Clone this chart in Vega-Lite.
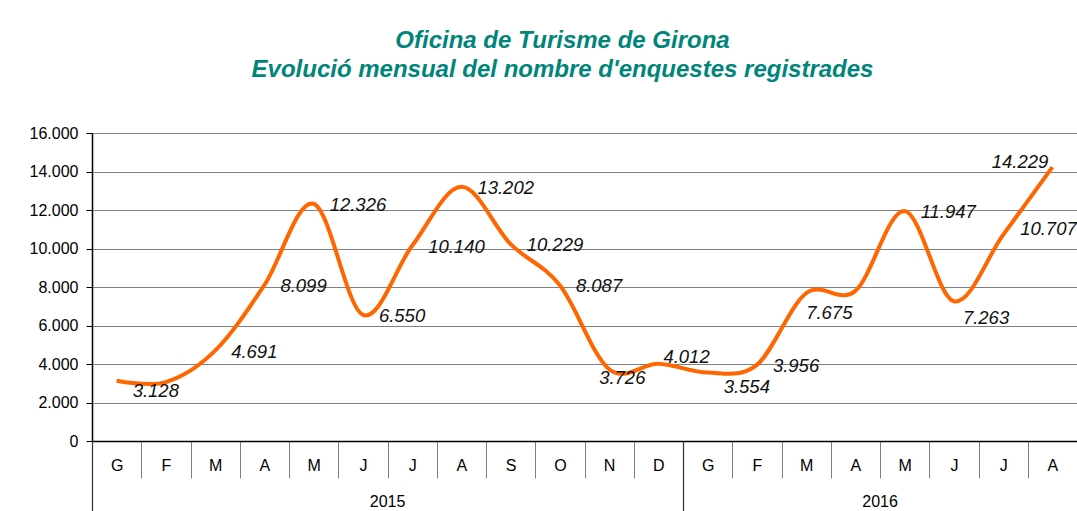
{
  "$schema": "https://vega.github.io/schema/vega-lite/v6.json",
  "width": 985,
  "height": 308,
  "autosize": {"type": "none"},
  "padding": {"left": 92, "top": 133, "right": 0, "bottom": 70},
  "background": "white",
  "title": {
    "text": ["Oficina de Turisme de Girona", "Evolució mensual del nombre d'enquestes registrades"],
    "font": "Liberation Sans",
    "fontSize": 24,
    "fontWeight": "bold",
    "fontStyle": "italic",
    "color": "#00857a",
    "anchor": "middle",
    "frame": "group",
    "dx": -22,
    "offset": 43,
    "lineHeight": 29
  },
  "config": {
    "view": {"stroke": null},
    "text": {"font": "Liberation Sans", "fontStyle": "italic", "fontSize": 18.5, "align": "left", "baseline": "middle", "color": "#111111"}
  },
  "data": {
    "values": [
      {"key": "2015-01", "v": 3128},
      {"key": "2015-02", "v": 3060},
      {"key": "2015-03", "v": 4691},
      {"key": "2015-04", "v": 8099},
      {"key": "2015-05", "v": 12326},
      {"key": "2015-06", "v": 6550},
      {"key": "2015-07", "v": 10140},
      {"key": "2015-08", "v": 13202},
      {"key": "2015-09", "v": 10229},
      {"key": "2015-10", "v": 8087},
      {"key": "2015-11", "v": 3726},
      {"key": "2015-12", "v": 4012},
      {"key": "2016-01", "v": 3554},
      {"key": "2016-02", "v": 3956},
      {"key": "2016-03", "v": 7675},
      {"key": "2016-04", "v": 7800},
      {"key": "2016-05", "v": 11947},
      {"key": "2016-06", "v": 7263},
      {"key": "2016-07", "v": 10707},
      {"key": "2016-08", "v": 14229}
    ]
  },
  "transform": [{"calculate": "replace(format(datum.v, ','), ',', '.')", "as": "lbl"}],
  "encoding": {
    "y": {
      "field": "v", "type": "quantitative",
      "scale": {"domain": [0, 16000], "nice": false},
      "axis": {
        "title": null, "values": [0, 2000, 4000, 6000, 8000, 10000, 12000, 14000, 16000],
        "labelExpr": "replace(format(datum.value, ','), ',', '.')",
        "grid": true, "gridColor": "#808080", "gridWidth": 1,
        "tickColor": "#000000", "tickSize": 6, "labelPadding": 8,
        "labelFont": "Liberation Sans", "labelFontSize": 16, "labelColor": "#000000",
        "domainColor": "#000000", "domainWidth": 1.5
      }
    }
  },
  "layer": [
    {
      "mark": {"type": "line", "color": "#ff6600", "strokeWidth": 4, "interpolate": "cardinal"},
      "encoding": {
        "x": {
          "field": "key", "type": "ordinal",
          "scale": {"type": "band", "paddingInner": 0, "paddingOuter": 0},
          "axis": {
            "orient": "bottom",
            "title": null, "tickBand": "extent", "tickSize": 37, "tickColor": "#808080", "tickWidth": 1,
            "labelPadding": -13, "labelBaseline": "middle", "labelAngle": 0,
            "labelExpr": "['G','F','M','A','M','J','J','A','S','O','N','D'][toNumber(substring(datum.value + '', 5, 7)) - 1]",
            "labelFont": "Liberation Sans", "labelFontSize": 16, "labelColor": "#000000",
            "domainColor": "#000000", "domainWidth": 1.5, "grid": false
          }
        }
      }
    },
    {
      "mark": {"type": "rule", "strokeOpacity": 0},
      "encoding": {
        "x": {
          "field": "key", "type": "ordinal",
          "axis": {"orient": "bottom", "title": null, "values": ["2015-01", "2016-01"], "bandPosition": 0, "tickSize": 70, "tickColor": "#333333", "tickWidth": 1.2, "labels": false, "domain": false, "grid": false}
        }
      }
    },
    {
      "mark": {"type": "rule", "strokeOpacity": 0},
      "encoding": {
        "x": {
          "field": "key", "type": "ordinal",
          "axis": {"orient": "bottom", "title": null, "values": ["2015-07", "2016-05"], "bandPosition": 0, "ticks": false,
                   "labelExpr": "substring(datum.value + '', 0, 4)", "labelAngle": 0, "labelOffset": -24.6,
                   "labelPadding": 60, "labelBaseline": "middle", "labelFont": "Liberation Sans", "labelFontSize": 16, "labelColor": "#000000",
                   "domain": false, "grid": false}
        }
      }
    },
    {
      "transform": [{"filter": {"field": "key", "oneOf": ["2015-03", "2015-04", "2015-05", "2015-06", "2015-07", "2015-08", "2015-09", "2015-10", "2016-02", "2016-05"]}}],
      "mark": {"type": "text", "dx": 16, "dy": 1},
      "encoding": {"x": {"field": "key", "type": "ordinal", "axis": null}, "text": {"field": "lbl", "type": "nominal"}}
    },
    {
      "transform": [{"filter": {"field": "key", "equal": "2015-01"}}],
      "mark": {"type": "text", "dx": 16, "dy": 10},
      "encoding": {"x": {"field": "key", "type": "ordinal", "axis": null}, "text": {"field": "lbl", "type": "nominal"}}
    },
    {
      "transform": [{"filter": {"field": "key", "equal": "2016-01"}}],
      "mark": {"type": "text", "dx": 16, "dy": 14},
      "encoding": {"x": {"field": "key", "type": "ordinal", "axis": null}, "text": {"field": "lbl", "type": "nominal"}}
    },
    {
      "transform": [{"filter": {"field": "key", "equal": "2016-06"}}],
      "mark": {"type": "text", "dx": 9, "dy": 17},
      "encoding": {"x": {"field": "key", "type": "ordinal", "axis": null}, "text": {"field": "lbl", "type": "nominal"}}
    },
    {
      "transform": [{"filter": {"field": "key", "equal": "2015-11"}}],
      "mark": {"type": "text", "dx": -10, "dy": 9},
      "encoding": {"x": {"field": "key", "type": "ordinal", "axis": null}, "text": {"field": "lbl", "type": "nominal"}}
    },
    {
      "transform": [{"filter": {"field": "key", "equal": "2016-03"}}],
      "mark": {"type": "text", "dx": 0, "dy": 20},
      "encoding": {"x": {"field": "key", "type": "ordinal", "axis": null}, "text": {"field": "lbl", "type": "nominal"}}
    },
    {
      "transform": [{"filter": {"field": "key", "equal": "2015-12"}}],
      "mark": {"type": "text", "dx": 5, "dy": -7},
      "encoding": {"x": {"field": "key", "type": "ordinal", "axis": null}, "text": {"field": "lbl", "type": "nominal"}}
    },
    {
      "transform": [{"filter": {"field": "key", "equal": "2016-07"}}],
      "mark": {"type": "text", "dx": 17, "dy": -6},
      "encoding": {"x": {"field": "key", "type": "ordinal", "axis": null}, "text": {"field": "lbl", "type": "nominal"}}
    },
    {
      "transform": [{"filter": {"field": "key", "equal": "2016-08"}}],
      "mark": {"type": "text", "dx": -4, "dy": -5, "align": "right"},
      "encoding": {"x": {"field": "key", "type": "ordinal", "axis": null}, "text": {"field": "lbl", "type": "nominal"}}
    }
  ],
  "resolve": {"axis": {"x": "independent"}}
}
